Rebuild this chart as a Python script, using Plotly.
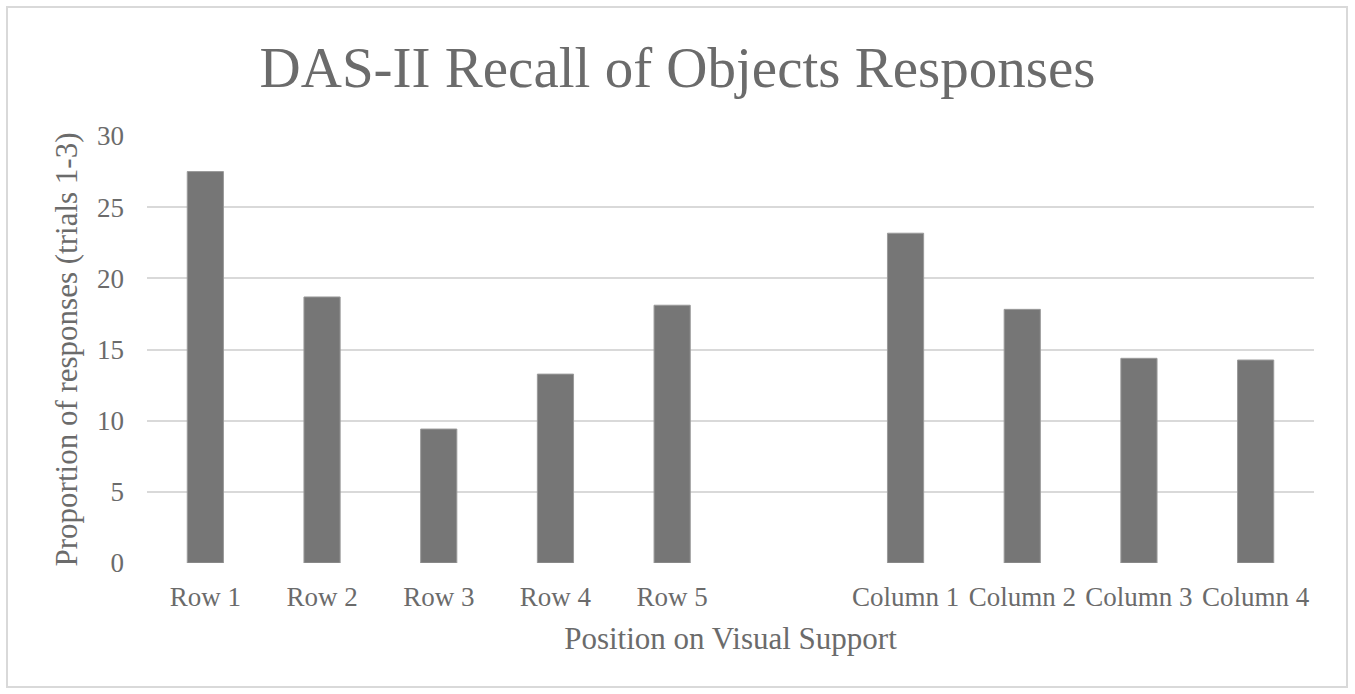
import plotly.graph_objects as go

categories = ["Row 1", "Row 2", "Row 3", "Row 4", "Row 5", " ",
              "Column 1", "Column 2", "Column 3", "Column 4"]
values = [27.5, 18.69, 9.41, 13.27, 18.11, None, 23.17, 17.82, 14.38, 14.26]
y_ticks = [0, 5, 10, 15, 20, 25, 30]

FONT = "Liberation Serif, Times New Roman, serif"
TXT = "#6b6b6b"

fig = go.Figure()
fig.add_trace(go.Bar(
    x=categories, y=values,
    marker=dict(color="#767676", line=dict(color="#9a9a9a", width=1)),
    hoverinfo="x+y",
))

fig.update_layout(
    width=1355, height=694,
    margin=dict(l=147, r=41, t=136, b=131),
    paper_bgcolor="white", plot_bgcolor="white",
    font=dict(family=FONT, color=TXT, size=27),
    bargap=0.69,
    showlegend=False,
    title=dict(text="DAS-II Recall of Objects Responses",
               font=dict(family=FONT, size=57, color=TXT),
               x=0.5, xref="container", xanchor="center",
               y=0.903, yref="container", yanchor="middle"),
    xaxis=dict(type="category", showgrid=False, zeroline=False,
               showline=False, ticks="", ticklabelstandoff=15,
               tickfont=dict(size=27, color=TXT),
               title=dict(text="Position on Visual Support",
                          font=dict(size=31, color=TXT), standoff=16)),
    yaxis=dict(range=[0, 30], tickvals=y_ticks, showgrid=True,
               gridcolor="#d9d9d9", gridwidth=2, zeroline=False,
               showline=False, ticks="", ticklabelstandoff=22,
               tickfont=dict(size=27, color=TXT),
               title=dict(text="Proportion of responses (trials 1-3)",
                          font=dict(size=31, color=TXT), standoff=10)),
)

# outer chart border
fig.add_shape(type="rect", xref="paper", yref="paper",
              x0=(7 - 147) / 1167, x1=(1347 - 147) / 1167,
              y0=(563 - 687) / 427, y1=(563 - 7) / 427,
              line=dict(color="#d9d9d9", width=2), layer="below")

fig.write_html("out.html")
